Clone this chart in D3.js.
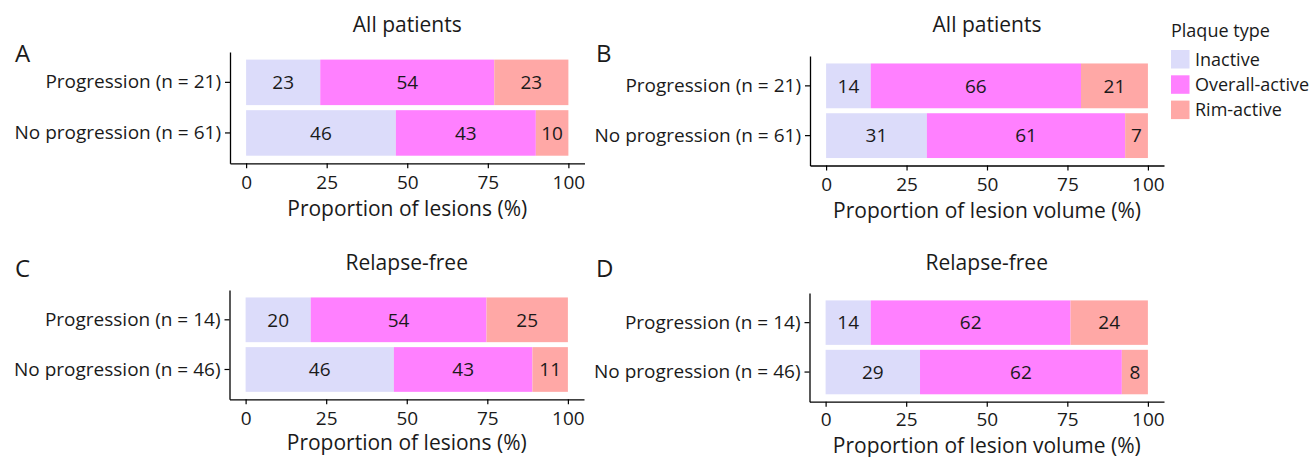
<!DOCTYPE html>
<html>
<head>
<meta charset="utf-8">
<script src="https://cdn.jsdelivr.net/npm/d3@7"></script>
<style>
  html, body { margin: 0; padding: 0; background: #ffffff; }
  svg { display: block; }
  text { font-family: "Open Sans", "Noto Sans", sans-serif; fill: #1a1a1a; }
</style>
</head>
<body>
<svg id="chart" width="1314" height="457"></svg>
<script>
// Plaque-type composition by progression status
const plaqueTypes = ["Inactive", "Overall-active", "Rim-active"];
const plaqueColors = ["#dcdcfa", "#ff80ff", "#ffa8a6"];

const categoriesAll = ["Progression (n = 21)", "No progression (n = 61)"];
const categoriesRelapseFree = ["Progression (n = 14)", "No progression (n = 46)"];

// A: proportion of lesions, all patients
const inactiveLesionsAll = [23, 46];
const overallLesionsAll = [54, 43];
const rimLesionsAll = [23, 10];
// B: proportion of lesion volume, all patients
const inactiveVolumeAll = [14, 31];
const overallVolumeAll = [66, 61];
const rimVolumeAll = [21, 7];
// C: proportion of lesions, relapse-free
const inactiveLesionsRF = [20, 46];
const overallLesionsRF = [54, 43];
const rimLesionsRF = [25, 11];
// D: proportion of lesion volume, relapse-free
const inactiveVolumeRF = [14, 29];
const overallVolumeRF = [62, 62];
const rimVolumeRF = [24, 8];

const xTicks = [0, 25, 50, 75, 100];
const panelLetters = ["A", "B", "C", "D"];
const panelTitles = ["All patients", "All patients", "Relapse-free", "Relapse-free"];
const axisTitles = ["Proportion of lesions (%)", "Proportion of lesion volume (%)",
                    "Proportion of lesions (%)", "Proportion of lesion volume (%)"];
const legendTitle = "Plaque type";

const panels = [
  { cats: categoriesAll, series: [inactiveLesionsAll, overallLesionsAll, rimLesionsAll],
    xr: [230, 584.5], top: 52, bottom: 163.3, titleY: 32, tickPad: 7, axisTitleDy: 53, letterX: 15, letterY: 62 },
  { cats: categoriesAll, series: [inactiveVolumeAll, overallVolumeAll, rimVolumeAll],
    xr: [810, 1164], top: 56, bottom: 165.5, titleY: 32, tickPad: 7, axisTitleDy: 52, letterX: 596, letterY: 62 },
  { cats: categoriesRelapseFree, series: [inactiveLesionsRF, overallLesionsRF, rimLesionsRF],
    xr: [229.5, 584], top: 290, bottom: 399.3, titleY: 269.5, tickPad: 7, axisTitleDy: 51, letterX: 15, letterY: 277 },
  { cats: categoriesRelapseFree, series: [inactiveVolumeRF, overallVolumeRF, rimVolumeRF],
    xr: [809.5, 1164], top: 293, bottom: 401.7, titleY: 269.5, tickPad: 6, axisTitleDy: 51, letterX: 596, letterY: 277 }
];

const svg = d3.select("#chart");
const color = d3.scaleOrdinal().domain(plaqueTypes).range(plaqueColors);

panels.forEach((p, pi) => {
  const rows = p.cats.map((c, i) => {
    const r = { category: c };
    plaqueTypes.forEach((t, k) => { r[t] = p.series[k][i]; });
    return r;
  });
  // stack normalised to the full bar (position "fill")
  const stacked = d3.stack().keys(plaqueTypes).offset(d3.stackOffsetExpand)(rows);

  const x = d3.scaleLinear().domain([-5, 105]).range(p.xr);
  const y = d3.scaleBand().domain(p.cats).range([p.top, p.bottom])
    .paddingInner(0.1).paddingOuter(0.15);

  const g = svg.append("g");

  // bars
  const layer = g.selectAll("g.layer").data(stacked).join("g")
    .attr("class", "layer").attr("fill", d => color(d.key));
  layer.selectAll("rect").data(d => d).join("rect")
    .attr("x", d => x(d[0] * 100))
    .attr("width", d => x(d[1] * 100) - x(d[0] * 100))
    .attr("y", d => y(d.data.category))
    .attr("height", y.bandwidth());

  // value labels at segment centres
  stacked.forEach(s => {
    g.selectAll(null).data(s).join("text")
      .attr("x", d => x((d[0] + d[1]) / 2 * 100))
      .attr("y", d => y(d.data.category) + y.bandwidth() / 2)
      .attr("dy", "0.36em")
      .attr("text-anchor", "middle")
      .style("font-size", "19px")
      .text(d => d.data[s.key]);
  });

  // x axis
  const xa = g.append("g").attr("transform", `translate(0,${p.bottom})`)
    .call(d3.axisBottom(x).tickValues(xTicks).tickSize(5).tickSizeOuter(0).tickPadding(p.tickPad));
  // y axis
  const ya = g.append("g").attr("transform", `translate(${p.xr[0]},0)`)
    .call(d3.axisLeft(y).tickSize(5).tickSizeOuter(0).tickPadding(4));
  [xa, ya].forEach(a => {
    a.attr("font-family", null).attr("font-size", null);
    a.select(".domain").attr("stroke", "#000").attr("stroke-width", 1.3);
    a.selectAll(".tick line").attr("stroke", "#000").attr("stroke-width", 1.2);
    a.selectAll(".tick text").attr("fill", "#1a1a1a").style("font-size", "19px");
  });

  const cx = (x(0) + x(100)) / 2;
  g.append("text").attr("x", cx).attr("y", p.bottom + p.axisTitleDy)
    .attr("text-anchor", "middle").style("font-size", "21px").text(axisTitles[pi]);
  g.append("text").attr("x", cx).attr("y", p.titleY)
    .attr("text-anchor", "middle").style("font-size", "21px").text(panelTitles[pi]);
  g.append("text").attr("x", p.letterX).attr("y", p.letterY)
    .style("font-size", "24px").text(panelLetters[pi]);
});

// legend
const legend = svg.append("g").attr("transform", "translate(1171,0)");
legend.append("text").attr("x", 0).attr("y", 36.5).style("font-size", "18px").text(legendTitle);
const item = legend.selectAll("g.item").data(plaqueTypes).join("g")
  .attr("class", "item")
  .attr("transform", (d, i) => `translate(0,${50 + i * 25.3})`);
item.append("rect").attr("width", 18.5).attr("height", 18.5).attr("fill", d => color(d));
item.append("text").attr("x", 24).attr("y", 9.25).attr("dy", "0.36em")
  .style("font-size", "18px").text(d => d);
</script>
</body>
</html>
